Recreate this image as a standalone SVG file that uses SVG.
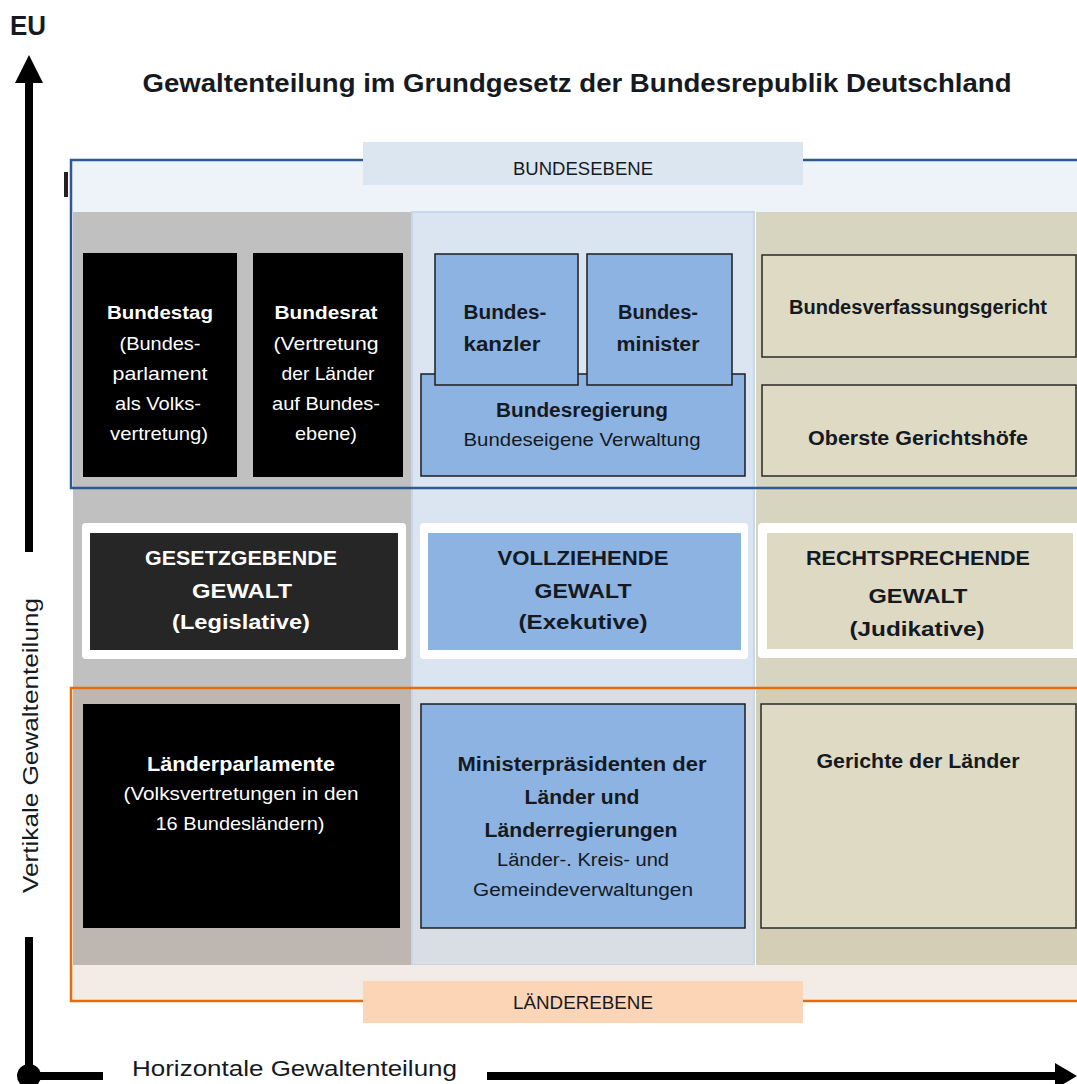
<svg xmlns="http://www.w3.org/2000/svg" width="1077" height="1084" viewBox="0 0 1077 1084">
<style>
text{font-family:"Liberation Sans",Arial,sans-serif;}
.b{font-weight:bold;}
.w{fill:#FFFFFF;}
.d{fill:#151A22;}
.blk{fill:#000000;}
.blu{fill:#8DB3E2;stroke:#1E1E1E;stroke-width:1.5;}
.bei{fill:#DEDAC4;stroke:#2A2A2A;stroke-width:1.5;}
.ax{stroke:#000;stroke-width:8;fill:none;}
</style>
<defs>
<marker id="headUp" markerUnits="userSpaceOnUse" viewBox="0 0 28 28" refX="1" refY="14" markerWidth="28" markerHeight="28" orient="auto">
<path d="M0,0 L28,14 L0,28 z" fill="#000"/>
</marker>
<marker id="headRight" markerUnits="userSpaceOnUse" viewBox="0 0 22 26" refX="1" refY="13" markerWidth="22" markerHeight="26" orient="auto">
<path d="M0,0 L22,13 L0,26 z" fill="#000"/>
</marker>
</defs>
<rect width="1077" height="1084" fill="#FFFFFF"/>

<text class="b d" x="10" y="35" font-size="28" textLength="36" lengthAdjust="spacingAndGlyphs">EU</text>
<text class="b d" x="577" y="92" font-size="25" text-anchor="middle" textLength="869" lengthAdjust="spacingAndGlyphs">Gewaltenteilung im Grundgesetz der Bundesrepublik Deutschland</text>

<g id="background">
<rect x="71" y="160" width="1006" height="52" fill="#EEF2F9"/>
<rect x="73" y="212" width="338" height="477" fill="#C0C0C0"/>
<rect x="73" y="689" width="338" height="276" fill="#BEB7B1"/>
<rect x="412" y="212" width="342" height="477" fill="#DBE5F1"/>
<rect x="412" y="689" width="342" height="276" fill="#D9DDE4"/>
<rect x="412" y="212" width="342" height="753" fill="none" stroke="#C6D7EC" stroke-width="2"/>
<rect x="756" y="212" width="321" height="477" fill="#D7D4BF"/>
<rect x="756" y="689" width="321" height="276" fill="#D5CEB7"/>
<rect x="71" y="965" width="1006" height="36" fill="#F3EBE6"/>
<rect x="64" y="172" width="4" height="25" fill="#222"/>
</g>

<g id="bundesebene-frame">
<rect x="71" y="160" width="1012" height="328" fill="none" stroke="#2E5A94" stroke-width="2.5"/>
<rect x="363" y="142" width="440" height="43" fill="#DCE6F1"/>
<text class="d" x="583" y="175" font-size="19" text-anchor="middle" textLength="140" lengthAdjust="spacingAndGlyphs">BUNDESEBENE</text>
</g>

<g id="laenderebene-frame">
<rect x="71" y="688" width="1012" height="313" fill="none" stroke="#E46C0A" stroke-width="2.5"/>
<rect x="363" y="981" width="440" height="42" fill="#FBD5B5"/>
<text class="d" x="583" y="1009" font-size="19" text-anchor="middle" textLength="140" lengthAdjust="spacingAndGlyphs">LÄNDEREBENE</text>
</g>

<g id="bundestag">
<rect class="blk" x="83" y="253" width="154" height="224"/>
<g class="w" font-size="19" text-anchor="middle">
<text class="b" x="160" y="319" textLength="106" lengthAdjust="spacingAndGlyphs">Bundestag</text>
<text x="160" y="350" textLength="81" lengthAdjust="spacingAndGlyphs">(Bundes-</text>
<text x="160" y="380" textLength="95" lengthAdjust="spacingAndGlyphs">parlament</text>
<text x="158" y="410" textLength="86" lengthAdjust="spacingAndGlyphs">als Volks-</text>
<text x="159" y="440" textLength="98" lengthAdjust="spacingAndGlyphs">vertretung)</text>
</g>
</g>

<g id="bundesrat">
<rect class="blk" x="253" y="253" width="150" height="224"/>
<g class="w" font-size="19" text-anchor="middle">
<text class="b" x="326" y="319" textLength="103" lengthAdjust="spacingAndGlyphs">Bundesrat</text>
<text x="326" y="350" textLength="105" lengthAdjust="spacingAndGlyphs">(Vertretung</text>
<text x="328" y="380" textLength="93" lengthAdjust="spacingAndGlyphs">der Länder</text>
<text x="326" y="410" textLength="108" lengthAdjust="spacingAndGlyphs">auf Bundes-</text>
<text x="326" y="440" textLength="62" lengthAdjust="spacingAndGlyphs">ebene)</text>
</g>
</g>

<g id="bundesregierung">
<rect class="blu" x="421" y="374" width="324" height="102"/>
<text class="b d" x="582" y="417" font-size="20" text-anchor="middle" textLength="172" lengthAdjust="spacingAndGlyphs">Bundesregierung</text>
<text class="d" x="582" y="446" font-size="19" text-anchor="middle" textLength="237" lengthAdjust="spacingAndGlyphs">Bundeseigene Verwaltung</text>
</g>

<g id="bundeskanzler">
<rect class="blu" x="435" y="254" width="143" height="131"/>
<text class="b d" x="505" y="319" font-size="20" text-anchor="middle" textLength="83" lengthAdjust="spacingAndGlyphs">Bundes-</text>
<text class="b d" x="502" y="351" font-size="20" text-anchor="middle" textLength="77" lengthAdjust="spacingAndGlyphs">kanzler</text>
</g>

<g id="bundesminister">
<rect class="blu" x="587" y="254" width="145" height="131"/>
<text class="b d" x="658" y="319" font-size="20" text-anchor="middle" textLength="80" lengthAdjust="spacingAndGlyphs">Bundes-</text>
<text class="b d" x="658" y="351" font-size="20" text-anchor="middle" textLength="83" lengthAdjust="spacingAndGlyphs">minister</text>
</g>

<g id="bundesverfassungsgericht">
<rect class="bei" x="762" y="255" width="314" height="102"/>
<text class="b d" x="918" y="314" font-size="20" text-anchor="middle" textLength="258" lengthAdjust="spacingAndGlyphs">Bundesverfassungsgericht</text>
</g>

<g id="oberste-gerichtshoefe">
<rect class="bei" x="762" y="385" width="314" height="91"/>
<text class="b d" x="918" y="445" font-size="20" text-anchor="middle" textLength="220" lengthAdjust="spacingAndGlyphs">Oberste Gerichtshöfe</text>
</g>

<g id="legislative">
<rect x="82" y="523" width="324" height="136" rx="4" fill="#FFFFFF"/>
<rect x="90" y="533" width="308" height="117" fill="#262626"/>
<text class="b w" x="241" y="565" font-size="21" text-anchor="middle" textLength="192" lengthAdjust="spacingAndGlyphs">GESETZGEBENDE</text>
<text class="b w" x="242" y="598" font-size="21" text-anchor="middle" textLength="100" lengthAdjust="spacingAndGlyphs">GEWALT</text>
<text class="b w" x="241" y="629" font-size="21" text-anchor="middle" textLength="138" lengthAdjust="spacingAndGlyphs">(Legislative)</text>
</g>

<g id="exekutive">
<rect x="420" y="523" width="328" height="136" rx="4" fill="#FFFFFF"/>
<rect x="428" y="533" width="313" height="117" fill="#8DB3E2"/>
<text class="b d" x="583" y="565" font-size="21" text-anchor="middle" textLength="171" lengthAdjust="spacingAndGlyphs">VOLLZIEHENDE</text>
<text class="b d" x="583" y="598" font-size="21" text-anchor="middle" textLength="97" lengthAdjust="spacingAndGlyphs">GEWALT</text>
<text class="b d" x="583" y="629" font-size="21" text-anchor="middle" textLength="129" lengthAdjust="spacingAndGlyphs">(Exekutive)</text>
</g>

<g id="judikative">
<rect x="758" y="523" width="330" height="135" rx="4" fill="#FFFFFF"/>
<rect x="767" y="533" width="306" height="116" fill="#DDD9C3"/>
<text class="b d" x="918" y="565" font-size="21" text-anchor="middle" textLength="224" lengthAdjust="spacingAndGlyphs">RECHTSPRECHENDE</text>
<text class="b d" x="918" y="603" font-size="21" text-anchor="middle" textLength="99" lengthAdjust="spacingAndGlyphs">GEWALT</text>
<text class="b d" x="917" y="636" font-size="21" text-anchor="middle" textLength="135" lengthAdjust="spacingAndGlyphs">(Judikative)</text>
</g>

<g id="laenderparlamente">
<rect class="blk" x="83" y="704" width="317" height="224"/>
<text class="b w" x="241" y="771" font-size="20" text-anchor="middle" textLength="188" lengthAdjust="spacingAndGlyphs">Länderparlamente</text>
<text class="w" x="241" y="800" font-size="19" text-anchor="middle" textLength="235" lengthAdjust="spacingAndGlyphs">(Volksvertretungen in den</text>
<text class="w" x="240" y="830" font-size="19" text-anchor="middle" textLength="169" lengthAdjust="spacingAndGlyphs">16 Bundesländern)</text>
</g>

<g id="ministerpraesidenten">
<rect class="blu" x="421" y="704" width="324" height="224"/>
<text class="b d" x="582" y="771" font-size="20" text-anchor="middle" textLength="249" lengthAdjust="spacingAndGlyphs">Ministerpräsidenten der</text>
<text class="b d" x="582" y="804" font-size="20" text-anchor="middle" textLength="115" lengthAdjust="spacingAndGlyphs">Länder und</text>
<text class="b d" x="581" y="837" font-size="20" text-anchor="middle" textLength="193" lengthAdjust="spacingAndGlyphs">Länderregierungen</text>
<text class="d" x="583" y="866" font-size="18" text-anchor="middle" textLength="172" lengthAdjust="spacingAndGlyphs">Länder-. Kreis- und</text>
<text class="d" x="583" y="896" font-size="18" text-anchor="middle" textLength="220" lengthAdjust="spacingAndGlyphs">Gemeindeverwaltungen</text>
</g>

<g id="gerichte-der-laender">
<rect class="bei" x="761" y="704" width="315" height="224"/>
<text class="b d" x="918" y="768" font-size="20" text-anchor="middle" textLength="203" lengthAdjust="spacingAndGlyphs">Gerichte der Länder</text>
</g>

<g id="connectors">
<line class="ax" x1="29" y1="552" x2="29" y2="82" marker-end="url(#headUp)"/>
<path class="ax" d="M29,937 V1076 H103"/>
<circle cx="29" cy="1076" r="12" fill="#000"/>
<line class="ax" x1="487" y1="1076" x2="1056" y2="1076" marker-end="url(#headRight)"/>
</g>

<text class="d" x="0" y="0" font-size="22" transform="translate(38,893) rotate(-90)" textLength="295" lengthAdjust="spacingAndGlyphs">Vertikale Gewaltenteilung</text>
<text class="d" x="132" y="1076" font-size="22" textLength="325" lengthAdjust="spacingAndGlyphs">Horizontale Gewaltenteilung</text>
</svg>
